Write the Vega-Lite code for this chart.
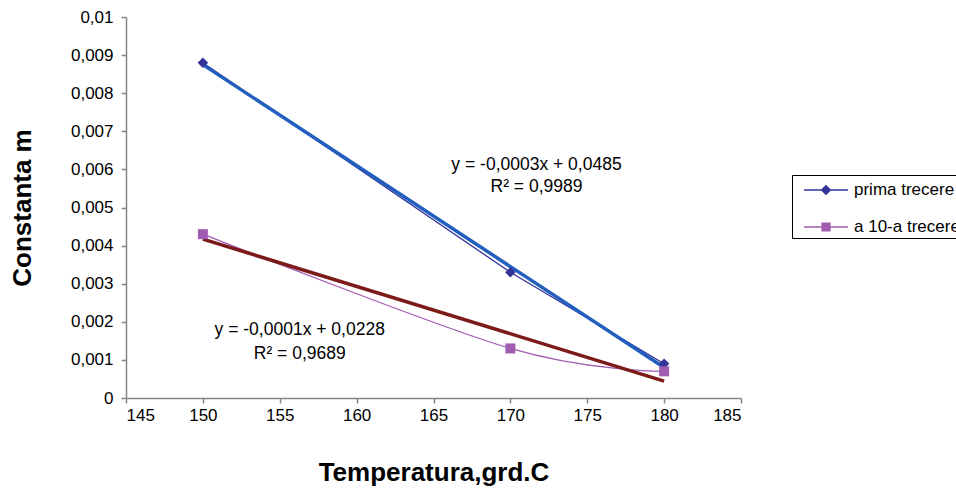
{
  "$schema": "https://vega.github.io/schema/vega-lite/v6.json",
  "width": 615,
  "height": 381,
  "autosize": {"type": "none"},
  "padding": {"left": 126, "top": 17, "right": 215, "bottom": 93},
  "background": "white",
  "config": {
    "locale": {"number": {"decimal": ",", "thousands": ".", "grouping": [3], "currency": ["", ""]}},
    "font": "Liberation Sans",
    "view": {"stroke": null},
    "axis": {
      "grid": false,
      "domainColor": "#868686",
      "domainWidth": 1.5,
      "tickColor": "#868686",
      "tickWidth": 1.5,
      "tickSize": 5,
      "labelColor": "#000000",
      "labelFontSize": 17,
      "labelFont": "Liberation Sans",
      "labelOverlap": false,
      "titleFont": "Liberation Sans",
      "titleFontSize": 26,
      "titleFontWeight": "bold",
      "titleColor": "#000000"
    }
  },
  "data": {
    "values": [
      {"series": "prima trecere", "T": 150, "m": 0.0088},
      {"series": "prima trecere", "T": 170, "m": 0.0033},
      {"series": "prima trecere", "T": 180, "m": 0.0009},
      {"series": "a 10-a trecere", "T": 150, "m": 0.0043},
      {"series": "a 10-a trecere", "T": 170, "m": 0.0013},
      {"series": "a 10-a trecere", "T": 180, "m": 0.0007}
    ]
  },
  "layer": [
    {
      "transform": [{"filter": "datum.series === 'prima trecere'"}],
      "mark": {"type": "line", "strokeWidth": 1.3, "interpolate": "linear"},
      "encoding": {
        "x": {"field": "T", "type": "quantitative", "scale": {"domain": [145, 185], "nice": false, "zero": false},
          "axis": {"values": [145, 150, 155, 160, 165, 170, 175, 180, 185], "tickCount": 9, "title": "Temperatura,grd.C", "titlePadding": 36, "labelPadding": 4, "labelOverlap": false}},
        "y": {"field": "m", "type": "quantitative", "scale": {"domain": [0, 0.01], "nice": false},
          "axis": {"values": [0, 0.001, 0.002, 0.003, 0.004, 0.005, 0.006, 0.007, 0.008, 0.009, 0.01], "tickCount": 11, "format": ".3~f", "title": "Constanta m", "titlePadding": 35, "labelPadding": 8, "labelOverlap": false, "labelBound": false, "labelFlush": false}},
        "color": {"field": "series", "type": "nominal",
          "scale": {"domain": ["prima trecere", "a 10-a trecere"], "range": ["#333399", "#A05CB0"]},
          "legend": {
            "title": null,
            "orient": "none",
            "legendX": 666,
            "legendY": 158,
            "padding": 3,
            "strokeColor": "#000000",
            "fillColor": "#ffffff",
            "symbolSize": 484,
            "symbolOffset": 19,
            "labelOffset": 16,
            "rowPadding": 17,
            "labelFontSize": 17,
            "labelFont": "Liberation Sans",
            "labelColor": "#000000",
            "symbolStrokeWidth": 1.3,
            "encode": {
              "symbols": {
                "update": {
                  "shape": [
                    {"test": "datum.value === 'prima trecere'", "value": "M-2,0H2M0,-0.4L0.4,0L0,0.4L-0.4,0Z"},
                    {"value": "M-2,0H2M-0.36,-0.36H0.36V0.36H-0.36Z"}
                  ],
                  "fill": [
                    {"test": "datum.value === 'prima trecere'", "value": "#333399"},
                    {"value": "#A05CB0"}
                  ],
                  "stroke": [
                    {"test": "datum.value === 'prima trecere'", "value": "#333399"},
                    {"value": "#A05CB0"}
                  ],
                  "opacity": {"value": 1},
                  "fillOpacity": {"value": 1}
                }
              }
            }
          }}
      }
    },
    {
      "transform": [{"filter": "datum.series === 'a 10-a trecere'"}],
      "mark": {"type": "line", "strokeWidth": 1.3, "interpolate": "cardinal"},
      "encoding": {
        "x": {"field": "T", "type": "quantitative"},
        "y": {"field": "m", "type": "quantitative"},
        "color": {"field": "series", "type": "nominal"}
      }
    },
    {
      "transform": [
        {"filter": "datum.series === 'prima trecere'"},
        {"regression": "m", "on": "T", "extent": [150, 180]}
      ],
      "mark": {"type": "line", "strokeWidth": 3.5, "color": "#215EBD"},
      "encoding": {
        "x": {"field": "T", "type": "quantitative"},
        "y": {"field": "m", "type": "quantitative"}
      }
    },
    {
      "transform": [
        {"filter": "datum.series === 'a 10-a trecere'"},
        {"regression": "m", "on": "T", "extent": [150, 180]}
      ],
      "mark": {"type": "line", "strokeWidth": 3.5, "color": "#7D1A1A"},
      "encoding": {
        "x": {"field": "T", "type": "quantitative"},
        "y": {"field": "m", "type": "quantitative"}
      }
    },
    {
      "transform": [{"filter": "datum.series === 'prima trecere'"}],
      "mark": {"type": "point", "filled": true, "size": 110, "opacity": 1, "shape": "diamond"},
      "encoding": {
        "x": {"field": "T", "type": "quantitative"},
        "y": {"field": "m", "type": "quantitative"},
        "color": {"field": "series", "type": "nominal"}
      }
    },
    {
      "transform": [{"filter": "datum.series === 'a 10-a trecere'"}],
      "mark": {"type": "point", "filled": true, "size": 100, "opacity": 1, "shape": "square"},
      "encoding": {
        "x": {"field": "T", "type": "quantitative"},
        "y": {"field": "m", "type": "quantitative"},
        "color": {"field": "series", "type": "nominal"}
      }
    },
    {
      "data": {
        "values": [
          {"label": "y = -0,0003x + 0,0485", "lx": 171.7, "ly": 0.00612},
          {"label": "R² = 0,9989", "lx": 171.7, "ly": 0.00554},
          {"label": "y = -0,0001x + 0,0228", "lx": 156.3, "ly": 0.00179},
          {"label": "R² = 0,9689", "lx": 156.3, "ly": 0.00116}
        ]
      },
      "mark": {"type": "text", "fontSize": 17.5, "font": "Liberation Sans", "color": "#000000", "align": "center", "baseline": "middle"},
      "encoding": {
        "x": {"field": "lx", "type": "quantitative"},
        "y": {"field": "ly", "type": "quantitative"},
        "text": {"field": "label", "type": "nominal"}
      }
    }
  ]
}
